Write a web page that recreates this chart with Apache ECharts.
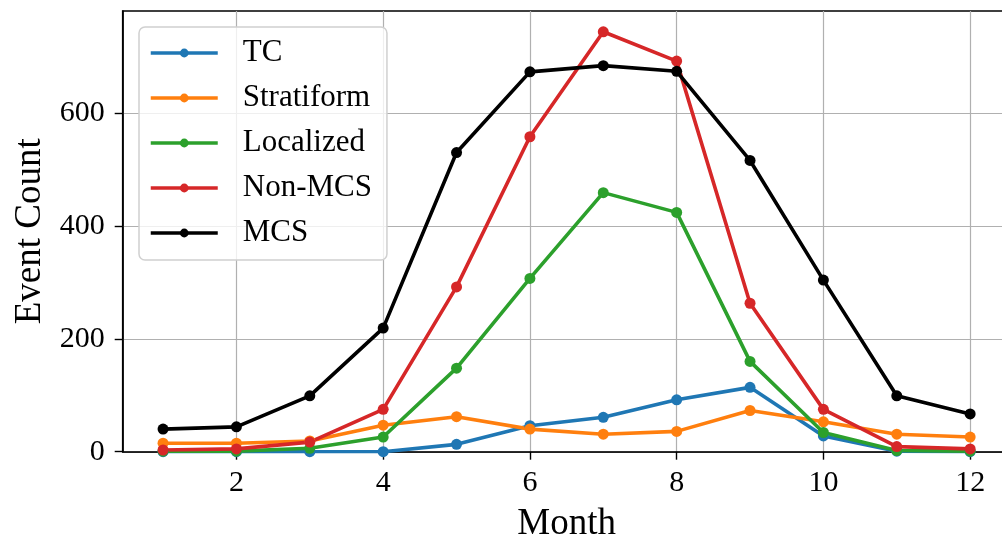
<!DOCTYPE html>
<html>
<head>
<meta charset="utf-8">
<script src="https://cdn.jsdelivr.net/npm/echarts@6/dist/echarts.min.js"></script>
<style>
  html, body { margin: 0; padding: 0; background: #fff; }
  #chart { width: 1002px; height: 538px; }
</style>
</head>
<body>
<div id="chart"></div>
<script>
// Monthly event counts per storm type
const months = [1, 2, 3, 4, 5, 6, 7, 8, 9, 10, 11, 12];
const tc = [0, 0, 0, 0, 13, 46, 61, 92, 114, 28, 1, 0];
const stratiform = [15, 15, 19, 47, 62, 40, 31, 36, 73, 53, 31, 26];
const localized = [1, 1, 6, 26, 148, 307, 459, 424, 160, 34, 2, 1];
const nonMcs = [3, 5, 17, 75, 292, 558, 744, 692, 263, 75, 9, 5];
const mcs = [40, 44, 99, 219, 530, 673, 684, 674, 516, 304, 99, 67];

const xTicks = [2, 4, 6, 8, 10, 12];
const yTicks = [0, 200, 400, 600];

const seriesDefs = [
  { name: 'TC', values: tc, color: '#1f77b4' },
  { name: 'Stratiform', values: stratiform, color: '#ff7f0e' },
  { name: 'Localized', values: localized, color: '#2ca02c' },
  { name: 'Non-MCS', values: nonMcs, color: '#d62728' },
  { name: 'MCS', values: mcs, color: '#000000' }
];

const FONT = '"Liberation Serif", "Times New Roman", serif';

const chart = echarts.init(document.getElementById('chart'), null, { renderer: 'canvas' });

const axisCommon = {
  type: 'value',
  axisLine: { show: true, onZero: false, lineStyle: { color: '#000', width: 1.6 } },
  axisTick: { show: true, length: 8, inside: false, lineStyle: { color: '#000', width: 1.4 } },
  splitLine: { show: true, lineStyle: { color: '#b0b0b0', width: 1.2 } },
  nameLocation: 'middle',
  nameTextStyle: { fontFamily: FONT, fontSize: 37, color: '#000' }
};

chart.setOption({
  animation: false,
  backgroundColor: '#fff',
  grid: {
    left: 122.7, top: 11, right: -8.5, bottom: 86.3,
    show: true, borderColor: '#000', borderWidth: 1.6, backgroundColor: 'transparent',
    containLabel: false, outerBoundsMode: 'none'
  },
  legend: {
    orient: 'vertical',
    left: 139, top: 27,
    data: seriesDefs.map(s => s.name),
    backgroundColor: 'rgba(255,255,255,0.8)',
    borderColor: '#d0d0d0', borderWidth: 1.5, borderRadius: 6,
    padding: [10, 15, 11, 10],
    itemWidth: 67, itemHeight: 11, itemGap: 13,
    lineStyle: { width: 3.5 },
    textStyle: { fontFamily: FONT, fontSize: 31, color: '#000', lineHeight: 32, padding: [0, 0, 0, 20] }
  },
  xAxis: Object.assign({}, axisCommon, {
    min: 0.45, max: 12.55,
    name: 'Month', nameGap: 54,
    axisTick: Object.assign({}, axisCommon.axisTick, { customValues: xTicks }),
    axisLabel: { customValues: xTicks, fontFamily: FONT, fontSize: 30, color: '#000', margin: 16 }
  }),
  yAxis: Object.assign({}, axisCommon, {
    min: 0, max: 780.8,
    name: 'Event Count', nameGap: 69,
    axisTick: Object.assign({}, axisCommon.axisTick, { customValues: yTicks }),
    axisLabel: { customValues: yTicks, fontFamily: FONT, fontSize: 30, color: '#000', margin: 18 }
  }),
  series: seriesDefs.map(s => ({
    name: s.name,
    type: 'line',
    data: months.map((m, i) => [m, s.values[i]]),
    symbol: 'circle',
    symbolSize: 11,
    showSymbol: true,
    lineStyle: { color: s.color, width: 3.6 },
    itemStyle: { color: s.color },
    emphasis: { disabled: true }
  }))
});
</script>
</body>
</html>
